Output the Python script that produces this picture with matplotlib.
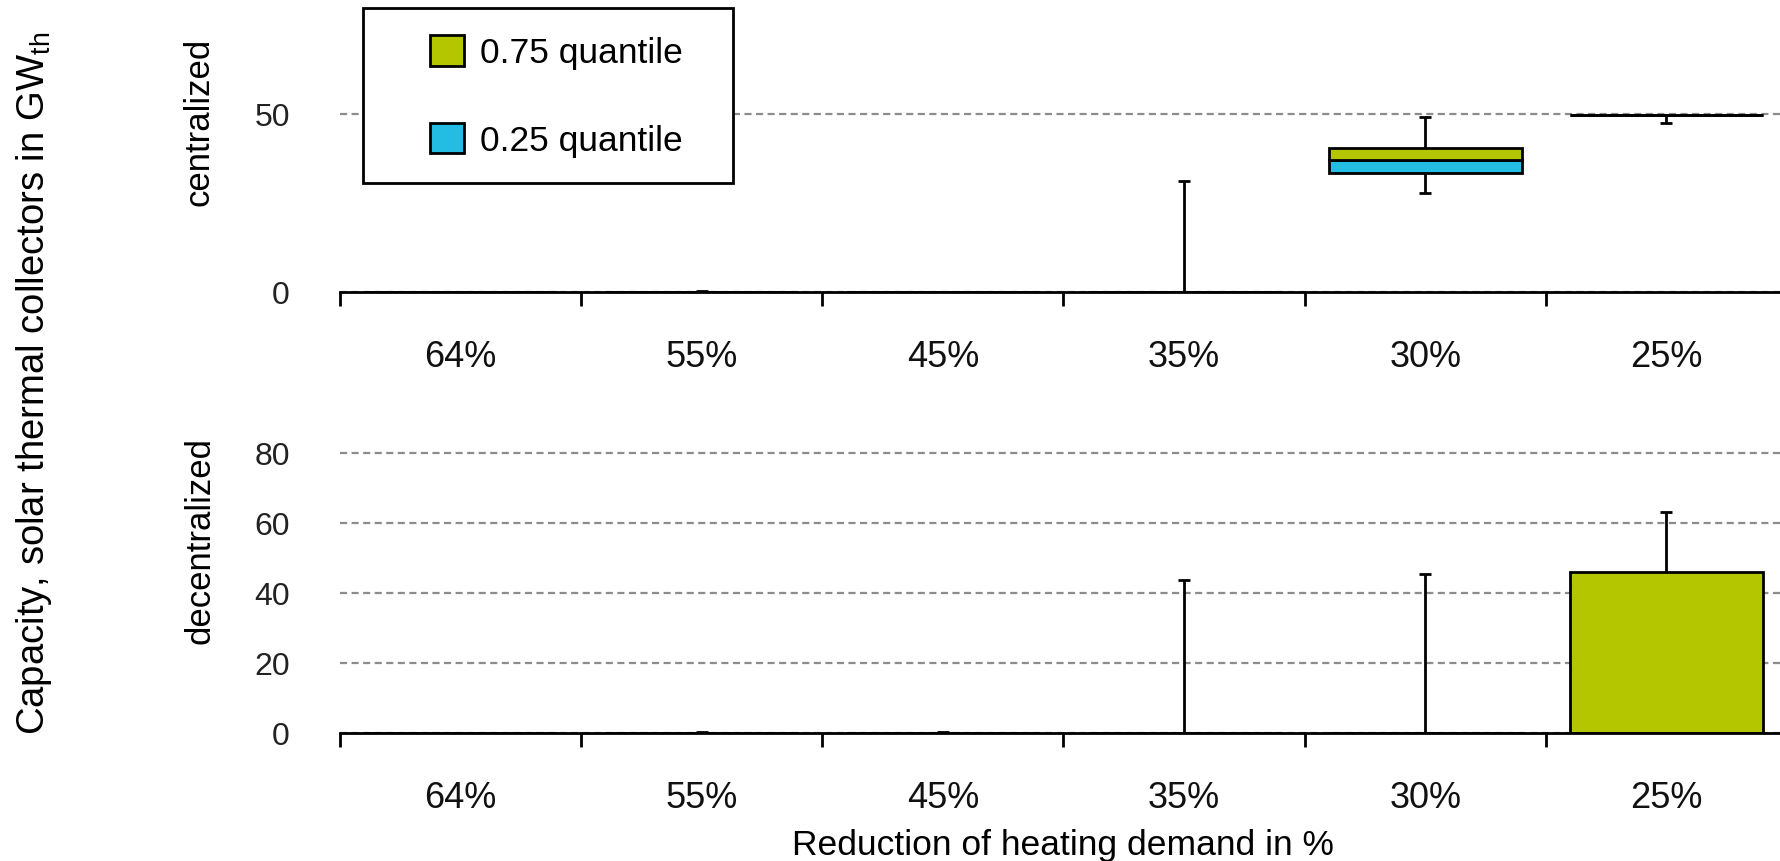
import numpy as np
import matplotlib
matplotlib.use('Agg')
import matplotlib.pyplot as plt
from matplotlib.patches import Patch, Rectangle

plt.rcParams['font.family'] = ['Liberation Sans', 'DejaVu Sans']
plt.rcParams['mathtext.default'] = 'regular'

# categories (reduction of heating demand)
cats = ['64%', '55%', '45%', '35%', '30%', '25%']

# centralized: min, 0.25 quantile, median, 0.75 quantile, max
cen_min = [0, 0, 0, 0, 27.7, 47.5]
cen_q25 = [0, 0, 0, 0, 33.4, 49.7]
cen_med = [0, 0, 0, 0, 37.0, 49.7]
cen_q75 = [0, 0, 0, 0, 40.4, 49.7]
cen_max = [0, 0.4, 0, 31.2, 49.2, 49.7]

# decentralized
dec_min = [0, 0, 0, 0, 0, 0]
dec_q25 = [0, 0, 0, 0, 0, 0]
dec_med = [0, 0, 0, 0, 0, 0]
dec_q75 = [0, 0, 0, 0, 0, 46.1]
dec_max = [0, 0.3, 0.3, 43.6, 45.5, 63.2]

green = '#b3c600'
blue = '#23bce2'
W, H = 1781, 862
LW = 2.0

fig = plt.figure(figsize=(W / 100, H / 100), dpi=100)
ax1 = fig.add_axes([340 / W, 1 - 293 / H, 1447 / W, 293 / H])
ax2 = fig.add_axes([340 / W, 1 - 734 / H, 1447 / W, 315 / H])


def panel(ax, mn, q25, med, q75, mx, top, yticks):
    x = np.arange(len(cats))
    mn, q25, med, q75, mx = map(np.array, (mn, q25, med, q75, mx))
    ax.vlines(x, q75, mx, colors='black', lw=LW, zorder=2)
    ax.vlines(x, mn, q25, colors='black', lw=LW, zorder=2)
    ax.hlines(mx, x - 0.025, x + 0.025, colors='black', lw=LW, zorder=2)
    ax.hlines(mn, x - 0.025, x + 0.025, colors='black', lw=LW, zorder=2)
    ax.bar(x, med - q25, bottom=q25, width=0.8, color=blue,
           edgecolor='black', linewidth=LW, zorder=3)
    ax.bar(x, q75 - med, bottom=med, width=0.8, color=green,
           edgecolor='black', linewidth=LW, zorder=3)
    ax.set_xlim(-0.5, 5.5)
    ax.set_ylim(0, top)
    ax.set_yticks(yticks)
    ax.set_yticklabels([str(t) for t in yticks], fontsize=23, color='#222222')
    ax.tick_params(axis='y', length=0, pad=36)
    ax.yaxis.grid(True, linestyle=(0, (3.2, 2.0)), color='#8c8c8c', lw=1.6)
    ax.set_axisbelow(True)
    for s in ('top', 'right', 'left'):
        ax.spines[s].set_visible(False)
    ax.spines['bottom'].set_linewidth(LW)
    ax.spines['bottom'].set_zorder(4)
    ax.set_xticks(np.arange(-0.5, 6, 1))
    ax.set_xticklabels([])
    ax.tick_params(axis='x', which='major', length=10, width=LW, direction='out')
    ax.set_xticks(x, minor=True)
    ax.set_xticklabels(cats, minor=True, fontsize=26, color='#111111')
    ax.tick_params(axis='x', which='minor', length=0, pad=34)


panel(ax1, cen_min, cen_q25, cen_med, cen_q75, cen_max, 82.3, [0, 50])
panel(ax2, dec_min, dec_q25, dec_med, dec_q75, dec_max, 90, [0, 20, 40, 60, 80])

fig.text(199 / W, 1 - 122 / H, 'centralized', rotation=90, fontsize=25,
         ha='center', va='center')
fig.text(200 / W, 1 - 541 / H, 'decentralized', rotation=90, fontsize=25,
         ha='center', va='center')
fig.text(34 / W, 1 - 383 / H, 'Capacity, solar thermal collectors in GW$_{th}$',
         rotation=90, fontsize=27.5, ha='center', va='center')
fig.text(1063 / W, 1 - 846 / H, 'Reduction of heating demand in %', fontsize=25.5,
         ha='center', va='center')

# legend box
frame = Rectangle((363 / W, 1 - 184 / H), 370 / W, 175 / H, transform=fig.transFigure,
                  facecolor='white', edgecolor='black', lw=LW, zorder=5)
fig.patches.append(frame)
handles = [Patch(facecolor=green, edgecolor='black', lw=LW, label='0.75 quantile'),
           Patch(facecolor=blue, edgecolor='black', lw=LW, label='0.25 quantile')]
leg = fig.legend(handles=handles, loc='upper left', bbox_to_anchor=(430 / W, 1 - 36 / H),
                 bbox_transform=fig.transFigure, frameon=False, fontsize=25.5,
                 handlelength=0.95, handleheight=0.95, labelspacing=1.5,
                 borderpad=0, borderaxespad=0, handletextpad=0.45)
leg.set_zorder(6)

fig.savefig('out.png', dpi=100)
